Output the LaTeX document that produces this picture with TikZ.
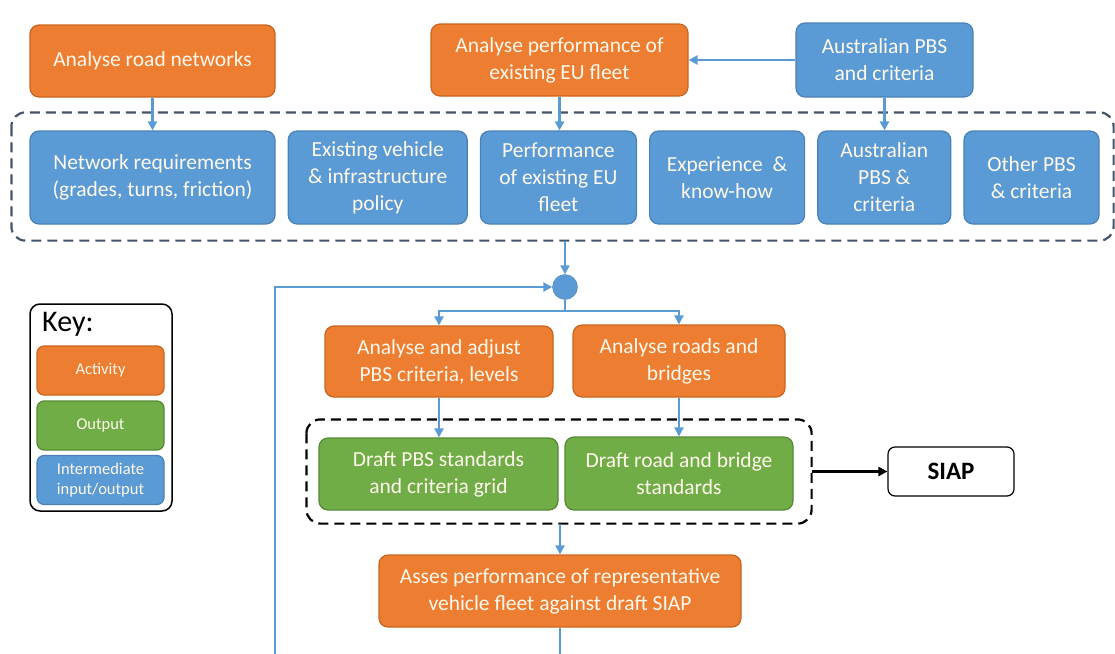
\documentclass[tikz,border=0pt]{standalone}
\usepackage{fontspec}
\setmainfont{Carlito}
\usetikzlibrary{positioning,calc,arrows.meta}
\definecolor{actfill}{HTML}{ED7D31}
\definecolor{actline}{HTML}{C9651F}
\definecolor{midfill}{HTML}{5B9BD5}
\definecolor{midline}{HTML}{4A80B5}
\definecolor{outfill}{HTML}{70AD47}
\definecolor{outedge}{HTML}{558A34}
\definecolor{grpline}{HTML}{44546A}
\definecolor{boxtext}{HTML}{FFF8EC}
\tikzstyle{activity} = [rectangle, rounded corners=9pt, draw=actline, fill=actfill, text=boxtext, align=center, line width=1.2pt, inner sep=2pt, font=\fontsize{21.5}{27}\selectfont]
\tikzstyle{interm} = [activity, draw=midline, fill=midfill]
\tikzstyle{outbox} = [activity, draw=outedge, fill=outfill]
\tikzstyle{legend} = [rounded corners=7pt, font=\fontsize{16.5}{20}\selectfont]
\tikzstyle{arrow} = [line width=2.2pt, ->, >={Triangle[length=9pt,width=9pt]}, draw=midfill]
\tikzstyle{blackarrow} = [line width=2.4pt, ->, >={Triangle[length=9pt,width=9pt]}, draw=black]
\tikzstyle{grpone} = [draw=grpline, line width=2.2pt, dash pattern=on 10pt off 6pt, rounded corners=14pt]
\tikzstyle{grptwo} = [draw=black, line width=2.2pt, dash pattern=on 10pt off 6pt, rounded corners=14pt]

\begin{document}
\begin{tikzpicture}[x=1pt, y=-1pt, node distance=12pt]
  \useasboundingbox (0,0) rectangle (1115,653);
  \clip (0,0) rectangle (1115,653);

  % inputs on top
  \node (roadnet) [activity, minimum width=245, minimum height=72] at (152.5,61) {Analyse road networks};
  \node (perfeu) [activity, minimum width=257, minimum height=72] at (559.5,60) {Analyse performance of\\existing EU fleet};
  \node (auspbs) [interm, minimum width=177, minimum height=74] at (884.5,60) {Australian PBS\\and criteria};

  % row of intermediate inputs
  \node (netreq) [interm, minimum width=245, minimum height=93] at (152.5,177.5) {Network requirements\\(grades, turns, friction)};
  \node (policy) [interm, minimum width=179, minimum height=93, right=of netreq] {Existing vehicle\\\& infrastructure\\policy};
  \node (perfrow) [interm, minimum width=156, minimum height=93, right=of policy] {Performance\\of existing EU\\fleet};
  \node (knowhow) [interm, minimum width=155, minimum height=93, right=of perfrow] {Experience~~\&\\know-how};
  \node (ausrow) [interm, minimum width=133, minimum height=93, right=of knowhow] {Australian\\PBS \&\\criteria};
  \node (otherpbs) [interm, minimum width=135, minimum height=93, right=of ausrow] {Other PBS\\\& criteria};

  \draw[grpone] ($(netreq.north west)+(-18,-18)$) rectangle ($(otherpbs.south east)+(14,16)$);
  \coordinate (grpbot) at ($(otherpbs.south east)+(14,16)$);

  \draw[arrow] (roadnet) -- (netreq);
  \draw[arrow] (perfeu.south) -- (perfeu.south |- perfrow.north);
  \draw[arrow] (auspbs) -- (perfeu);
  \draw[arrow] (auspbs.south) -- (auspbs.south |- ausrow.north);

  % merge point and loop back
  \node (merge) [circle, fill=midfill, draw=midline, minimum size=25, inner sep=0] at (565,287) {};
  \draw[arrow] (merge |- grpbot) -- (merge);
  \coordinate (loopleft) at (275,287);

  % activities
  \node (adjust) [activity, minimum width=228, minimum height=71] at (439,361.5) {Analyse and adjust\\PBS criteria, levels};
  \node (roads) [activity, minimum width=212, minimum height=72] at (679,361) {Analyse roads and\\bridges};
  \draw[arrow] (merge.south) -- ++(0,11) -| (adjust.north);
  \draw[arrow] (merge.south) -- ++(0,11) -| (roads.north);

  % outputs
  \node (draftpbs) [outbox, minimum width=239, minimum height=72] at (438.5,474) {Draft PBS standards\\and criteria grid};
  \node (draftroad) [outbox, minimum width=228, minimum height=73] at (679,473.5) {Draft road and bridge\\standards};
  \draw[arrow] (adjust) -- (adjust |- draftpbs.north);
  \draw[arrow] (roads) -- (draftroad);
  \draw[grptwo] ($(draftpbs.north west)+(-12,-18)$) rectangle ($(draftroad.south east)+(18,13)$);
  \coordinate (grpright) at ($(draftroad.south east)+(18,13)$);

  \node (siap) [rectangle, draw=black, rounded corners=7pt, line width=1.2pt, minimum width=126, minimum height=49, font=\fontsize{25}{30}\selectfont\bfseries] at (951,471.5) {SIAP};
  \draw[blackarrow] (grpright |- siap) -- (siap.west);

  \node (assess) [activity, minimum width=362, minimum height=72] at (560,591) {Asses performance of representative\\vehicle fleet against draft SIAP};
  \draw[arrow] (assess.north |- grpright) -- (assess);
  \draw[arrow] (assess.south) -- ++(0,60) -| (loopleft) -- (merge);

  % key
  \node (keyframe) [rectangle, draw=black, rounded corners=10pt, line width=1.5pt, minimum width=142, minimum height=207] at (101,407.5) {};
  \node (keytitle) [anchor=west, inner sep=0, font=\fontsize{30}{34}\selectfont] at (42,324) {Key:};
  \node (keyact) [activity, legend, minimum width=127, minimum height=49] at (100.5,370.5) {Activity};
  \node (keyout) [outbox, legend, minimum width=127, minimum height=49] at (100.5,425.5) {Output};
  \node (keymid) [interm, legend, minimum width=127, minimum height=49] at (100.5,480) {Intermediate\\input/output};
\end{tikzpicture}
\end{document}
